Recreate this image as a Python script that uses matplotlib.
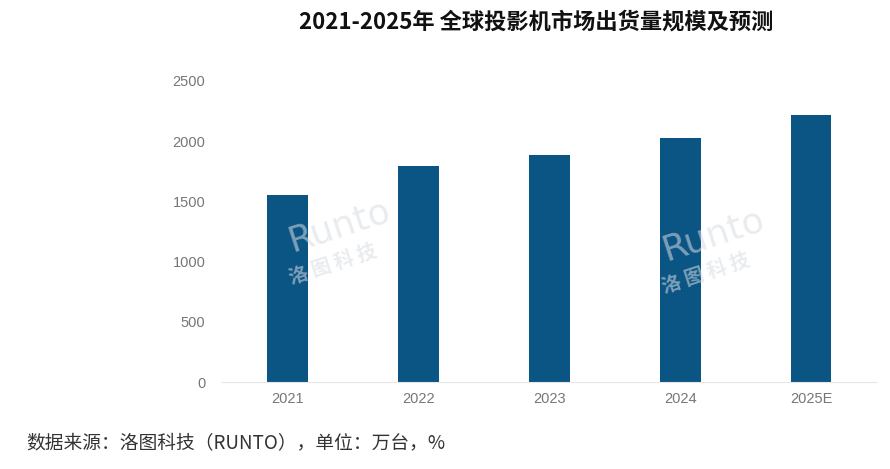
import matplotlib
matplotlib.use("Agg")
import matplotlib.pyplot as plt

plt.rcParams['font.family'] = ['Noto Sans CJK SC', 'DejaVu Sans']

# data
years = ["2021", "2022", "2023", "2024", "2025E"]
shipments = [1550, 1790, 1885, 2030, 2215]
y_ticks = [0, 500, 1000, 1500, 2000, 2500]

fig = plt.figure(figsize=(8.9, 4.69), dpi=100)
ax = fig.add_axes([0.2494, 0.1855, 0.7356, 0.6418])

ax.bar(range(len(years)), shipments, width=0.31, color='#0b5584', zorder=2)

ax.set_xlim(-0.5, len(years) - 0.5)
ax.set_ylim(0, 2500)
ax.set_yticks(y_ticks)
ax.set_xticks(range(len(years)))
ax.set_xticklabels(years)
ax.tick_params(axis='both', length=0, colors='#777777', labelsize=10.5)
ax.tick_params(axis='y', pad=12)
ax.tick_params(axis='x', pad=7)
for lab in ax.get_xticklabels() + ax.get_yticklabels():
    lab.set_family('Liberation Sans')

for side in ['top', 'right', 'left']:
    ax.spines[side].set_visible(False)
ax.spines['bottom'].set_color('#e6e6e6')

# watermark
for x0, y0 in [(0.18, 0.52), (0.75, 0.49)]:
    ax.text(x0, y0, "Runto", transform=ax.transAxes, fontsize=26, color='#d8dde2',
            alpha=0.55, rotation=18, ha='center', va='center', family='DejaVu Sans', zorder=3)
    ax.text(x0 - 0.01, y0 - 0.13, "洛 图 科 技", transform=ax.transAxes, fontsize=14,
            color='#d8dde2', alpha=0.55, rotation=18, ha='center', va='center',
            fontweight='bold', zorder=3)

fig.text(0.602, 0.953, "2021-2025年 全球投影机市场出货量规模及预测", ha='center', va='center',
         fontsize=16, fontweight='bold', color='#111111')
fig.text(0.030, 0.053, "数据来源：洛图科技（RUNTO），单位：万台，%", ha='left', va='center',
         fontsize=13.5, color='#333333')

fig.savefig("out.png", dpi=100)
